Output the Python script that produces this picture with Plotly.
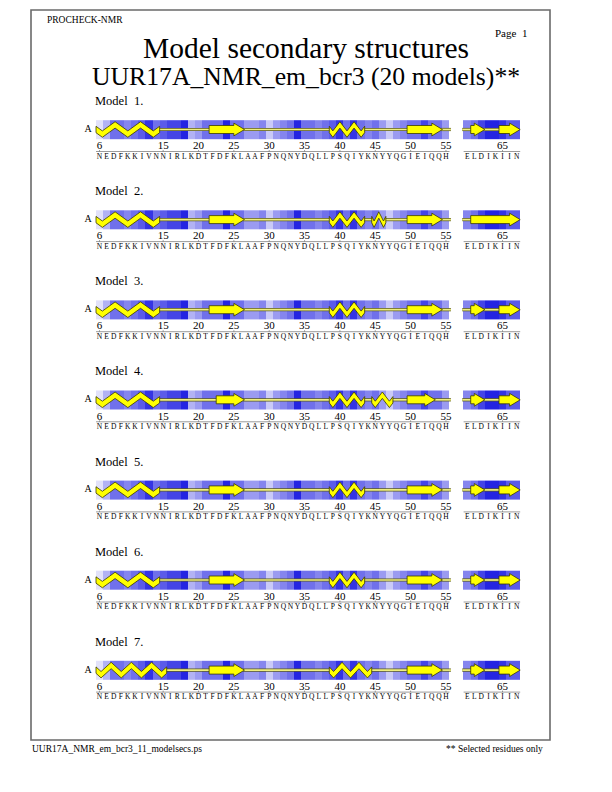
import math
import plotly.graph_objects as go

# ---------------- data ----------------
seg1_residues = list(range(6, 56))
seg2_residues = list(range(60, 68))
sequence1 = "NEDFKKIVNNIRLKDTFDFKLAAFPNQNYDQLLPSQIYKNYYQGIEIQQH"
sequence2 = "ELDIKIIN"
tick_residues = [6, 15, 20, 25, 30, 35, 40, 45, 50, 55, 65]

# background shading per residue (0 = lightest, 9 = darkest)
shade1 = [0, 2, 5, 5, 4, 5, 6, 8, 5, 6,
          7, 7, 9, 2, 3, 5, 5, 5, 9, 5,
          5, 3, 3, 4, 1, 3, 4, 5, 9, 5,
          5, 4, 5, 6, 8, 5, 8, 5, 4, 5,
          3, 1, 3, 4, 5, 5, 7, 5, 5, 3]
shade2 = [4, 5, 7, 9, 9, 8, 6, 6]

model_names = ["Model  1.", "Model  2.", "Model  3.", "Model  4.",
               "Model  5.", "Model  6.", "Model  7."]

# secondary structure elements: (type, first residue, last residue)
ss_model1 = [("H", 6, 14), ("E", 22, 26), ("H", 39, 43), ("E", 50, 54), ("E", 61, 62), ("E", 65, 67)]
ss_model2 = [("H", 6, 14), ("E", 22, 26), ("H", 39, 43), ("H", 45, 46), ("E", 50, 54), ("E", 61, 67)]
ss_model3 = [("H", 6, 14), ("E", 22, 26), ("H", 39, 43), ("E", 50, 54), ("E", 61, 62), ("E", 65, 67)]
ss_model4 = [("H", 6, 14), ("E", 23, 26), ("H", 39, 43), ("H", 45, 47), ("E", 50, 53), ("E", 61, 62), ("E", 65, 67)]
ss_model5 = [("H", 6, 14), ("E", 22, 26), ("H", 39, 43), ("E", 50, 54), ("E", 61, 62), ("E", 65, 67)]
ss_model6 = [("H", 6, 14), ("E", 22, 26), ("H", 39, 43), ("E", 50, 54), ("E", 61, 62), ("E", 65, 67)]
ss_model7 = [("H", 6, 15), ("E", 22, 26), ("H", 39, 44), ("E", 50, 54), ("E", 61, 62), ("E", 65, 67)]
ss_models = [ss_model1, ss_model2, ss_model3, ss_model4, ss_model5, ss_model6, ss_model7]

# ---------------- layout constants ----------------
W, H = 612, 792
PX0 = 96.0        # pixel of left edge of first residue cell
PXR = 7.07        # pixels per residue
ROW0 = 129.5      # centre of first strip (px)
ROWSP = 90.1      # row spacing (px)
STRIP_H = 18.6

SERIF = "Liberation Serif"
YEL = "#ffff00"
EDGE = "#3a3a00"


def pos(r):
    # residues of the second selected segment are drawn after a gap of 2 cells
    return r if r <= 55 else r - 2


XMIN = 5.5 - PX0 / PXR
XMAX = XMIN + W / PXR


def px2x(px):
    return XMIN + px / PXR


fig = go.Figure()

all_res = seg1_residues + seg2_residues
all_seq = sequence1 + sequence2
all_shade = shade1 + shade2

for m, name in enumerate(model_names):
    c = ROW0 + m * ROWSP
    # shading strip (with empty gap cells)
    xs = list(range(pos(6), pos(67) + 1))
    zs = [None] * len(xs)
    for r, s in zip(all_res, all_shade):
        zs[pos(r) - pos(6)] = s
    fig.add_trace(go.Heatmap(
        x=xs, z=[zs], y0=c, dy=STRIP_H,
        zmin=0, zmax=9, showscale=False, hoverinfo="skip",
        colorscale=[[0, "#e2e2fa"], [0.22, "#b2b2f4"], [0.45, "#8484ee"],
                    [0.6, "#6868ea"], [0.8, "#4040e6"], [1, "#2424e2"]],
    ))

    # coil runs
    occ = {}
    for t, a, b in ss_models[m]:
        for r in range(a, b + 1):
            occ[r] = t
    cx, cy = [], []
    for seg in (seg1_residues, seg2_residues):
        run = None
        for r in seg + [None]:
            if r is not None and r not in occ:
                if run is None:
                    run = [r, r]
                else:
                    run[1] = r
            else:
                if run is not None:
                    cx += [pos(run[0]) - 0.7, pos(run[1]) + 0.7, None]
                    cy += [c, c, None]
                    run = None
    fig.add_trace(go.Scatter(x=cx, y=cy, mode="lines", line=dict(color="#5a5a20", width=3.2),
                             hoverinfo="skip"))
    fig.add_trace(go.Scatter(x=cx, y=cy, mode="lines", line=dict(color="#f0f080", width=1.7),
                             hoverinfo="skip"))

    # elements
    for t, a, b in ss_models[m]:
        s = pos(a) - 0.5
        e = pos(b) + 0.5
        if t == "E":
            hl = 1.5
            bh, hh = 4.0, 6.4
            px = [s, e - hl, e - hl, e, e - hl, e - hl, s, s]
            py = [c - bh, c - bh, c - hh, c, c + hh, c + bh, c + bh, c - bh]
        else:
            n = b - a + 1
            npk = max(1, math.ceil(n / 4.5))
            hstep = (e - s) / (2 * npk + 1)
            A, T = 4.6, 3.2
            zx = [s] + [s + hstep / 2 + i * hstep for i in range(2 * npk + 1)] + [e]
            zy = [c] + [c + A if i % 2 == 0 else c - A for i in range(2 * npk + 1)] + [c]
            px = zx + zx[::-1] + [zx[0]]
            py = [y - T for y in zy] + [y + T for y in zy[::-1]] + [zy[0] - T]
        fig.add_trace(go.Scatter(x=px, y=py, mode="lines", fill="toself",
                                 fillcolor=YEL, line=dict(color=EDGE, width=0.8),
                                 hoverinfo="skip"))

    # residue number labels
    fig.add_trace(go.Scatter(
        x=[pos(r) for r in tick_residues], y=[c + 17] * len(tick_residues),
        mode="text", text=[str(r) for r in tick_residues],
        textfont=dict(family=SERIF, size=11, color="black"), hoverinfo="skip"))
    # baseline under numbers
    fig.add_trace(go.Scatter(
        x=[pos(6) - 0.5, pos(55) + 0.5, None, pos(60) - 0.5, pos(67) + 0.5],
        y=[c + 22, c + 22, None, c + 22, c + 22],
        mode="lines", line=dict(color="#707070", width=0.7), hoverinfo="skip"))
    tx, ty = [], []
    for r in tick_residues:
        tx += [pos(r), pos(r), None]
        ty += [c + 22, c + 20.5, None]
    fig.add_trace(go.Scatter(x=tx, y=ty, mode="lines",
                             line=dict(color="#707070", width=0.7), hoverinfo="skip"))
    # sequence
    fig.add_trace(go.Scatter(
        x=[pos(r) for r in all_res], y=[c + 27.5] * len(all_res),
        mode="text", text=list(all_seq),
        textfont=dict(family=SERIF, size=7.5, color="black"), hoverinfo="skip"))
    # model name and chain
    fig.add_trace(go.Scatter(
        x=[px2x(95)], y=[c - 27.5], mode="text", text=[name], textposition="middle right",
        textfont=dict(family=SERIF, size=12.5, color="black"), hoverinfo="skip"))
    fig.add_trace(go.Scatter(
        x=[px2x(88)], y=[c], mode="text", text=["A"],
        textfont=dict(family=SERIF, size=10, color="black"), hoverinfo="skip"))


def ann(text, x, y, size, anchor="center"):
    fig.add_annotation(text=text, x=x / W, y=1 - y / H, xref="paper", yref="paper",
                       showarrow=False, xanchor=anchor, yanchor="middle",
                       font=dict(family=SERIF, size=size, color="black"))


ann("PROCHECK-NMR", 45, 20, 9.5, "left")
ann("Page  1", 529, 33, 11, "right")
ann("Model secondary structures", 306, 48, 29.5)
ann("UUR17A_NMR_em_bcr3 (20 models)**", 306, 77, 25.7)
ann("UUR17A_NMR_em_bcr3_11_modelsecs.ps", 30, 749, 9.5, "left")
ann("** Selected residues only", 545, 749, 9.5, "right")

fig.add_shape(type="rect", xref="paper", yref="paper",
              x0=31 / W, x1=550 / W, y0=1 - 10 / H, y1=1 - 740 / H,
              line=dict(color="#6a6a6a", width=1.6))

fig.update_layout(
    width=W, height=H, margin=dict(l=0, r=0, t=0, b=0),
    paper_bgcolor="white", plot_bgcolor="white", showlegend=False,
    xaxis=dict(range=[XMIN, XMAX], visible=False, fixedrange=True),
    yaxis=dict(range=[H, 0], visible=False, fixedrange=True),
)

fig.write_html("out.html", config={"displayModeBar": False},
               post_script="document.body.style.margin='0';document.body.style.padding='0';")
